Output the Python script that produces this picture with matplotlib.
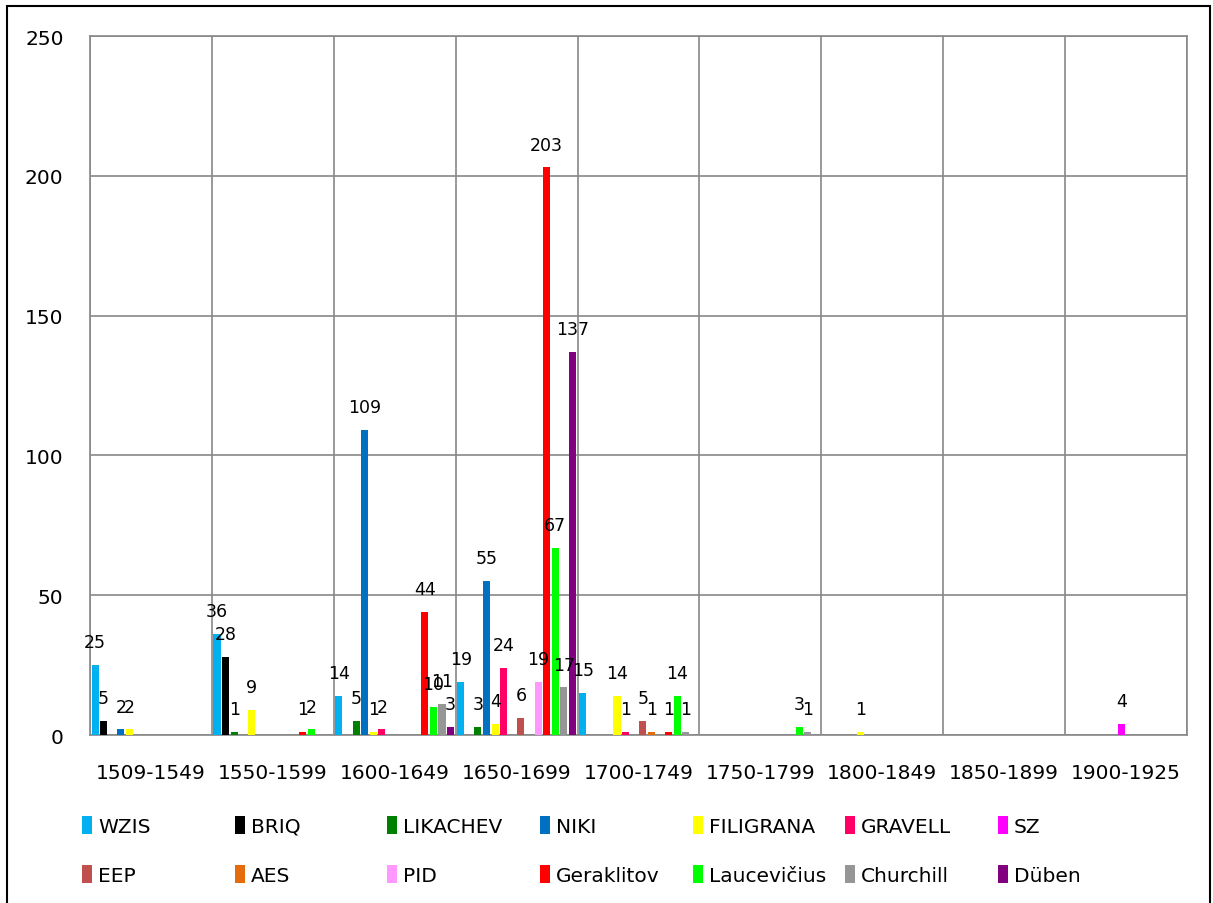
import numpy as np
import matplotlib.pyplot as plt
from matplotlib.patches import Rectangle

periods = ["1509-1549", "1550-1599", "1600-1649", "1650-1699", "1700-1749",
           "1750-1799", "1800-1849", "1850-1899", "1900-1925"]

names = ["WZIS", "BRIQ", "LIKACHEV", "NIKI", "FILIGRANA", "GRAVELL", "SZ",
         "EEP", "AES", "PID", "Geraklitov", "Laucevičius", "Churchill", "Düben"]

wzis = [25, 36, 14, 19, 15, 0, 0, 0, 0]
briq = [5, 28, 0, 0, 0, 0, 0, 0, 0]
likachev = [0, 1, 5, 3, 0, 0, 0, 0, 0]
niki = [2, 0, 109, 55, 0, 0, 0, 0, 0]
filigrana = [2, 9, 1, 4, 14, 0, 1, 0, 0]
gravell = [0, 0, 2, 24, 1, 0, 0, 0, 0]
sz = [0, 0, 0, 0, 0, 0, 0, 0, 4]
eep = [0, 0, 0, 6, 5, 0, 0, 0, 0]
aes = [0, 0, 0, 0, 1, 0, 0, 0, 0]
pid = [0, 0, 0, 19, 0, 0, 0, 0, 0]
geraklitov = [0, 1, 44, 203, 1, 0, 0, 0, 0]
laucevicius = [0, 2, 10, 67, 14, 3, 0, 0, 0]
churchill = [0, 0, 11, 17, 1, 1, 0, 0, 0]
duben = [0, 0, 3, 137, 0, 0, 0, 0, 0]

series = [wzis, briq, likachev, niki, filigrana, gravell, sz,
          eep, aes, pid, geraklitov, laucevicius, churchill, duben]

colors = ["#00B0F0", "#000000", "#008000", "#0070C0", "#FFFF00", "#FF0066", "#FF00FF",
          "#C0504D", "#E46C0A", "#FF99FF", "#FF0000", "#00FF00", "#969696", "#800080"]

fig = plt.figure(figsize=(12.13, 9.04), dpi=100)
ax = fig.add_axes([90/1213, 1 - 736/904, (1187 - 90)/1213, (736 - 37)/904])

x = np.arange(len(periods))
slot = 0.0705
width = 0.058
handles = []
for i, (vals, c) in enumerate(zip(series, colors)):
    bars = ax.bar(x + (i - 6.5) * slot, vals, width, color=c, label=names[i], zorder=3)
    handles.append(bars)
    ax.bar_label(bars, labels=[str(v) if v else "" for v in vals], padding=10,
                 fontsize=12.5, zorder=4)

ax.set_xlim(-0.5, len(periods) - 0.5)
ax.set_ylim(0, 250)
ax.set_yticks(np.arange(0, 251, 50))
ax.set_xticks(x)
ax.set_xticklabels(periods)
ax.set_xticks(np.arange(-0.5, len(periods), 1), minor=True)
ax.tick_params(axis="both", which="both", length=0, labelsize=14.5)
ax.tick_params(axis="y", pad=19)
ax.tick_params(axis="x", pad=20)
ax.grid(True, axis="y", color="#888888", linewidth=1.2, zorder=0)
ax.grid(True, axis="x", which="minor", color="#888888", linewidth=1.2, zorder=0)
for s in ax.spines.values():
    s.set_color("#888888")
    s.set_linewidth(1.2)

# legend: 7 columns, two rows, equal spacing
col_x = [82, 235, 387, 540, 693, 845, 998]
for j, cx in enumerate(col_x):
    fig.legend([handles[j], handles[j + 7]], [names[j], names[j + 7]],
               loc="upper left", bbox_to_anchor=(cx / 1213, 1 - 817 / 904),
               frameon=False, fontsize=14.5, handlelength=0.5, handleheight=1.0,
               handletextpad=0.3, labelspacing=1.45, borderpad=0, borderaxespad=0)

fig.patches.append(Rectangle((7/1213, -0.1), (1210 - 7)/1213, 1.1 - 7/904,
                             transform=fig.transFigure, fill=False,
                             edgecolor="black", linewidth=1.5))

fig.savefig("out.png", dpi=100)
